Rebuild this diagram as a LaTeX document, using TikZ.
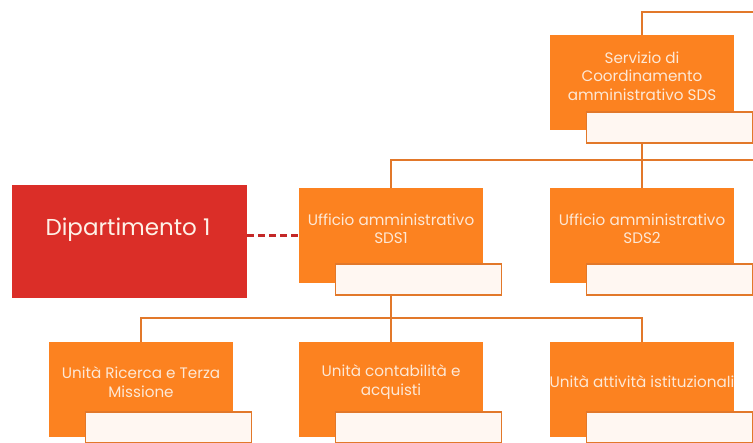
\documentclass[tikz,border=0pt]{standalone}
\usepackage{fontspec}
\setmainfont{Poppins}
\usetikzlibrary{positioning, calc}
\definecolor{unitorange}{RGB}{252,130,32}
\definecolor{lineorange}{RGB}{226,120,42}
\definecolor{deptred}{RGB}{219,46,40}
\definecolor{dashred}{RGB}{196,40,40}
\definecolor{peachtext}{RGB}{253,232,214}

\begin{document}
\begin{tikzpicture}[x=1pt, y=1pt,
  unit/.style={fill=unitorange, minimum width=184pt, minimum height=95pt, inner sep=0pt},
  subbox/.style={draw=lineorange, fill=unitorange!6, line width=1.6pt, anchor=north west,
    minimum width=166pt, minimum height=31pt, inner sep=0pt},
  txt/.style={text=peachtext, align=center, inner sep=0pt, font=\fontsize{15.2}{18.5}\selectfont},
  conn/.style={draw=lineorange, line width=2pt},
  dashconn/.style={draw=dashred, line width=2.8pt, dash pattern=on 7pt off 4pt}
]
  \clip (0,0) rectangle (753,443);

  % top unit
  \node[unit] (srv) at (642,360.5) {};
  \node[subbox] (srvw) at ($(srv.south west)+(36,19)$) {};
  \node[txt] (srvt) at (642,367) {Servizio di\\Coordinamento\\amministrativo SDS};

  % offices
  \node[unit] (sds1) at (391,207.5) {};
  \node[subbox] (sds1w) at ($(sds1.south west)+(36,20)$) {};
  \node[txt] (sds1t) at (391,214) {Ufficio amministrativo\\SDS1};

  \node[unit] (sds2) at (642,207.5) {};
  \node[subbox] (sds2w) at ($(sds2.south west)+(36,20)$) {};
  \node[txt] (sds2t) at (642,214) {Ufficio amministrativo\\SDS2};

  \node[fill=deptred, minimum width=235pt, minimum height=113pt] (dip) at (129.5,201.5) {};
  \node[text=peachtext!60!white, font=\fontsize{23}{26}\selectfont] (dipt) at (128,213) {Dipartimento 1};

  % units
  \node[unit] (ric) at (141,53.5) {};
  \node[subbox] (ricw) at ($(ric.south west)+(36,26)$) {};
  \node[txt] (rict) at (141,61) {Unità Ricerca e Terza\\Missione};

  \node[unit] (con) at (391,53.5) {};
  \node[subbox] (conw) at ($(con.south west)+(36,26)$) {};
  \node[txt] (cont) at (391,61) {Unità contabilità e\\acquisti};

  \node[unit] (att) at (642,53.5) {};
  \node[subbox] (attw) at ($(att.south west)+(36,26)$) {};
  \node[txt] (attt) at (642,61) {Unità attività istituzionali};

  % connectors
  \coordinate (topend) at (753,431);
  \coordinate (rail1) at (753,283);
  \coordinate (rail2) at (391,125);
  \draw[conn] (srv.north) |- (topend);
  \draw[conn] (srv |- srvw.south) -- (srv |- rail1);
  \draw[conn] (rail1) -| (sds1.north);
  \draw[conn] (sds2.north) -- (sds2 |- rail1);
  \draw[dashconn] (dip.east |- sds1.center) -- (sds1.west);
  \draw[conn] (sds1 |- sds1w.south) -- (con.north);
  \draw[conn] (ric.north) |- (rail2) -| (att.north);
\end{tikzpicture}
\end{document}
